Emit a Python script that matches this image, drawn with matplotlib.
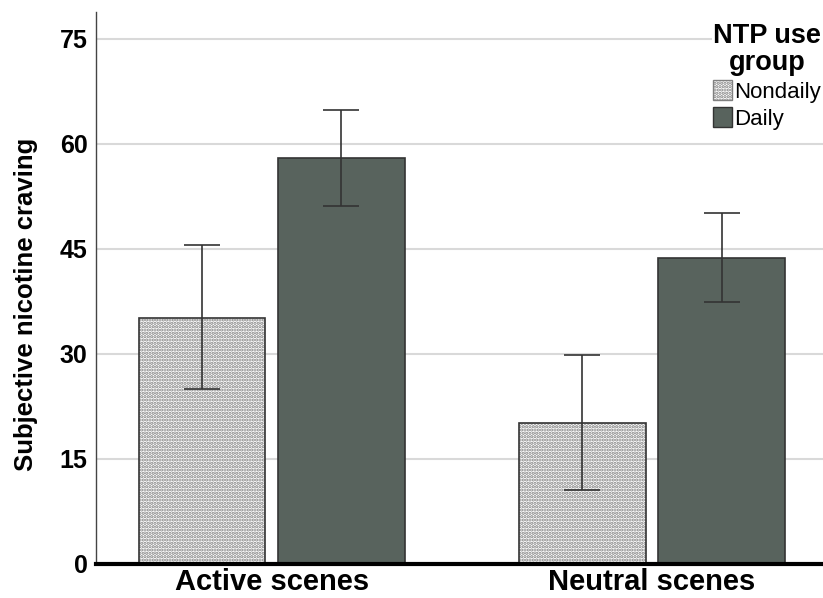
import matplotlib

matplotlib.use("Agg")
import matplotlib.pyplot as plt
import numpy as np
from matplotlib.patches import Patch

plt.rcParams["font.family"] = ["Liberation Sans", "DejaVu Sans"]
plt.rcParams["hatch.linewidth"] = 1.6

scenes = ["Active scenes", "Neutral scenes"]
groups = ["Nondaily", "Daily"]
means = {"Nondaily": [35.1, 20.2], "Daily": [58.0, 43.7]}
err_low = {"Nondaily": [25.0, 10.5], "Daily": [51.1, 37.4]}
err_high = {"Nondaily": [45.5, 29.8], "Daily": [64.9, 50.1]}
yticks = [0, 15, 30, 45, 60, 75]

daily_color = "#58635d"
edge = "#333333"
dots = "#808080"

fig = plt.figure(figsize=(8.23, 5.98), dpi=100)
ax = fig.add_axes([0.1166, 0.0569, 0.8834, 0.9231])

x = np.arange(len(scenes))
width = 0.332
offsets = {"Nondaily": -0.183, "Daily": 0.183}

for g in groups:
    pos = x + offsets[g]
    m = np.array(means[g])
    lo = m - np.array(err_low[g])
    hi = np.array(err_high[g]) - m
    if g == "Nondaily":
        ax.bar(pos, m, width, color="white", hatch=".....", edgecolor=dots,
               linewidth=0, zorder=2)
        ax.bar(pos, m, width, fill=False, edgecolor=edge, linewidth=1.2, zorder=3)
    else:
        ax.bar(pos, m, width, color=daily_color, edgecolor=edge, linewidth=1.2, zorder=2)
    ax.errorbar(pos, m, yerr=[lo, hi], fmt="none", ecolor=edge, elinewidth=1.2,
                capsize=13, capthick=1.2, zorder=4)

ax.set_xlim(-0.463, 1.45)
ax.set_ylim(0, 78.86)
ax.set_yticks(yticks)
ax.set_yticklabels([str(t) for t in yticks], fontsize=18, fontweight="bold")
ax.set_xticks(x)
ax.set_xticklabels(scenes, fontsize=21, fontweight="bold")
ax.tick_params(length=0, pad=6)
ax.tick_params(axis="x", pad=3)
ax.set_ylabel("Subjective nicotine craving", fontsize=18.5, fontweight="bold")
ax.yaxis.set_label_coords(-0.08, 0.47)

ax.yaxis.grid(True, color="#d9d9d9", linewidth=1.5, zorder=0)
ax.set_axisbelow(True)
for s in ["top", "right"]:
    ax.spines[s].set_visible(False)
ax.spines["left"].set_color("#444444")
ax.spines["left"].set_linewidth(1.0)
ax.spines["bottom"].set_color("black")
ax.spines["bottom"].set_linewidth(3)
ax.spines["bottom"].set_zorder(5)

handles = [
    Patch(facecolor="white", hatch=".....", edgecolor=dots, linewidth=1),
    Patch(facecolor=daily_color, edgecolor=edge, linewidth=1),
]
leg = ax.legend(handles, groups, title="NTP use\ngroup", loc="upper right",
                bbox_to_anchor=(1.0, 0.965), bbox_transform=fig.transFigure,
                frameon=True, fancybox=False, edgecolor="none", framealpha=1,
                fontsize=16, handlelength=0.85, handleheight=1.0, handletextpad=0.1,
                labelspacing=0.2, borderpad=0.08, borderaxespad=0)
leg.get_title().set_fontsize(19.5)
leg.get_title().set_fontweight("bold")
leg.get_title().set_multialignment("center")
leg.get_title().set_linespacing(1.05)
leg.set_zorder(6)

fig.savefig("out.png", dpi=100)
